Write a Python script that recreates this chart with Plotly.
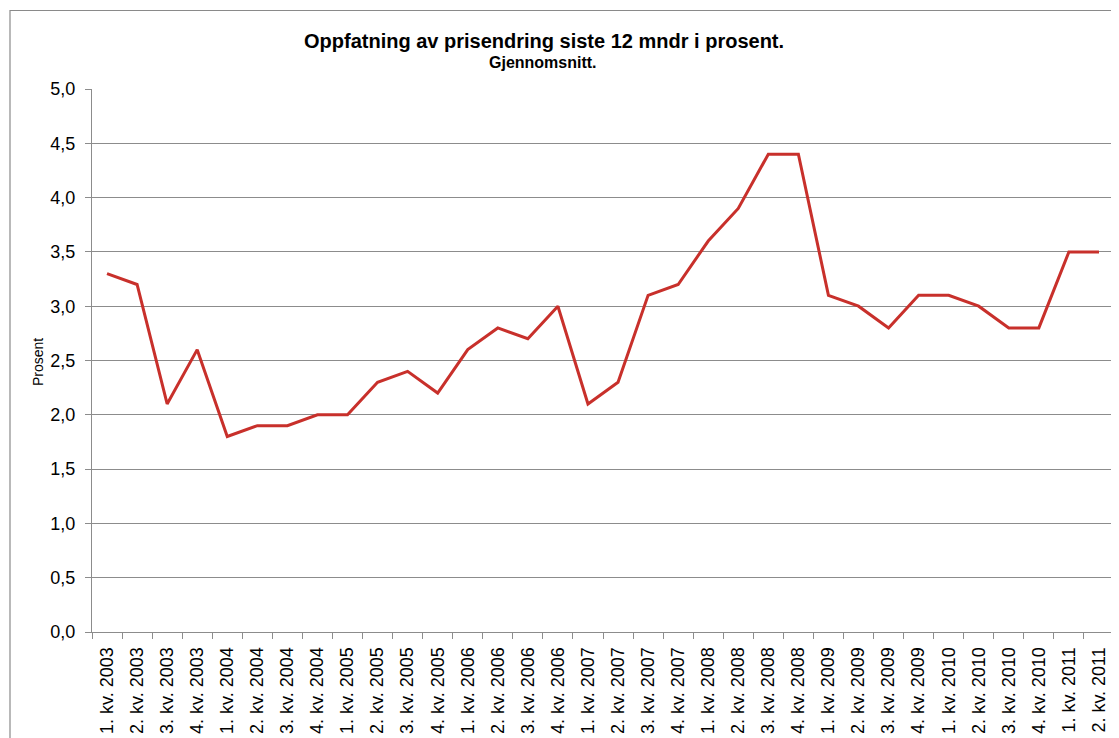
import plotly.graph_objects as go

# ── Data ──────────────────────────────────────────────────────────────────────
QUARTERS = [
    "1. kv. 2003", "2. kv. 2003", "3. kv. 2003", "4. kv. 2003",
    "1. kv. 2004", "2. kv. 2004", "3. kv. 2004", "4. kv. 2004",
    "1. kv. 2005", "2. kv. 2005", "3. kv. 2005", "4. kv. 2005",
    "1. kv. 2006", "2. kv. 2006", "3. kv. 2006", "4. kv. 2006",
    "1. kv. 2007", "2. kv. 2007", "3. kv. 2007", "4. kv. 2007",
    "1. kv. 2008", "2. kv. 2008", "3. kv. 2008", "4. kv. 2008",
    "1. kv. 2009", "2. kv. 2009", "3. kv. 2009", "4. kv. 2009",
    "1. kv. 2010", "2. kv. 2010", "3. kv. 2010", "4. kv. 2010",
    "1. kv. 2011", "2. kv. 2011",
]
PROSENT = [
    3.3, 3.2, 2.1, 2.6,
    1.8, 1.9, 1.9, 2.0,
    2.0, 2.3, 2.4, 2.2,
    2.6, 2.8, 2.7, 3.0,
    2.1, 2.3, 3.1, 3.2,
    3.6, 3.9, 4.4, 4.4,
    3.1, 3.0, 2.8, 3.1,
    3.1, 3.0, 2.8, 2.8,
    3.5, 3.5,
]
Y_TICKS = [0.0, 0.5, 1.0, 1.5, 2.0, 2.5, 3.0, 3.5, 4.0, 4.5, 5.0]

# ── Style ─────────────────────────────────────────────────────────────────────
# the page puts the figure 8px in from the top-left corner
OFF = 8
W, H = 1119 - OFF, 738 - OFF
PLOT_L, PLOT_R, PLOT_T, PLOT_B = 92, 1114, 89, 632   # in screenshot pixels
L, R = PLOT_L - OFF, OFF + W - PLOT_R
T, B = PLOT_T - OFF, OFF + H - PLOT_B
LINE_RED = "#C8302B"
GRID = "#8C8C8C"
FONT = "Liberation Sans, Arial, sans-serif"


def px_x(px):
    return (px - PLOT_L) / (PLOT_R - PLOT_L)


def px_y(py):
    return (PLOT_B - py) / (PLOT_B - PLOT_T)


fig = go.Figure(go.Scatter(
    x=QUARTERS,
    y=PROSENT,
    mode="lines",
    line=dict(color=LINE_RED, width=3),
    showlegend=False,
))

fig.update_layout(
    width=W, height=H,
    margin=dict(l=L, r=R, t=T, b=B, autoexpand=False),
    plot_bgcolor="#FFFFFF",
    paper_bgcolor="#FFFFFF",
    separators=", ",
    font=dict(family=FONT, size=18, color="#000000"),
    shapes=[dict(
        type="rect", xref="paper", yref="paper",
        x0=px_x(10), x1=px_x(1140), y0=px_y(760), y1=px_y(10.5),
        line=dict(color="#8A8A8A", width=1.2), fillcolor="rgba(0,0,0,0)",
        layer="below",
    )],
    annotations=[
        dict(text="<b>Oppfatning av prisendring siste 12 mndr i prosent.</b>",
             xref="paper", yref="paper", x=px_x(544), y=px_y(41),
             xanchor="center", yanchor="middle", showarrow=False,
             font=dict(size=20, color="#000000", family=FONT)),
        dict(text="<b>Gjennomsnitt.</b>",
             xref="paper", yref="paper", x=px_x(543), y=px_y(63),
             xanchor="center", yanchor="middle", showarrow=False,
             font=dict(size=16, color="#000000", family=FONT)),
        dict(text="Prosent",
             xref="paper", yref="paper", x=px_x(38), y=px_y(362),
             xanchor="center", yanchor="middle", showarrow=False, textangle=-90,
             font=dict(size=14, color="#000000", family=FONT)),
    ],
)

fig.update_xaxes(
    type="category",
    range=[-0.5, len(QUARTERS) - 0.5],
    tickangle=-90,
    tickson="boundaries",
    ticks="outside", ticklen=6, tickcolor=GRID,
    ticklabelstandoff=7,
    showline=True, linecolor=GRID, linewidth=1,
    showgrid=False, zeroline=False,
    tickfont=dict(size=18, family=FONT, color="#000000"),
)
fig.update_yaxes(
    range=[0, 5],
    tickvals=Y_TICKS,
    tickformat=".1f",
    ticks="outside", ticklen=6, tickcolor=GRID,
    ticklabelstandoff=6,
    showline=True, linecolor=GRID, linewidth=1,
    showgrid=True, gridcolor=GRID, gridwidth=1,
    zeroline=False,
    tickfont=dict(size=18, family=FONT, color="#000000"),
)

fig.write_html("out.html")
